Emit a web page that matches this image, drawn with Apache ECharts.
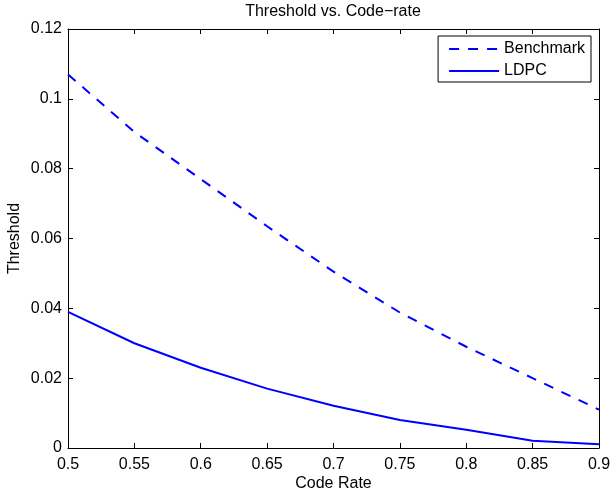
<!DOCTYPE html>
<html>
<head>
<meta charset="utf-8">
<script src="https://cdn.jsdelivr.net/npm/echarts@6/dist/echarts.min.js"></script>
<style>
html,body{margin:0;padding:0;background:#fff;}
#chart{width:612px;height:494px;}
</style>
</head>
<body>
<div id="chart"></div>
<script>
const codeRate = [0.5, 0.55, 0.6, 0.65, 0.7, 0.75, 0.8, 0.85, 0.9];
const benchmark = [0.107, 0.0905, 0.077, 0.0635, 0.0505, 0.0388, 0.029, 0.020, 0.011];
const ldpc = [0.039, 0.030, 0.023, 0.017, 0.0121, 0.008, 0.0052, 0.0021, 0.0011];
const titleText = 'Threshold vs. Code\u2212rate';
const xName = 'Code Rate';
const yName = 'Threshold';

const FONT = 'Liberation Sans, Arial, Helvetica, sans-serif';
const FS = 16;
const chart = echarts.init(document.getElementById('chart'));
const pairs = (xs, ys) => xs.map((x, i) => [x, ys[i]]);
const fmt = v => String(+v.toFixed(2));

const baseX = {
  type: 'value', min: 0.5, max: 0.9, interval: 0.05,
  axisLine: {show: true, onZero: false, lineStyle: {color: '#000', width: 1}},
  axisTick: {show: true, inside: true, length: 5, lineStyle: {color: '#000'}},
  splitLine: {show: false}
};
const baseY = {
  type: 'value', min: 0, max: 0.12, interval: 0.02,
  axisLine: {show: true, onZero: false, lineStyle: {color: '#000', width: 1}},
  axisTick: {show: true, inside: true, length: 5, lineStyle: {color: '#000'}},
  splitLine: {show: false}
};

chart.setOption({
  animation: false,
  backgroundColor: '#fff',
  title: {
    text: titleText, left: 328, top: -1, textAlign: 'center',
    textStyle: {fontFamily: FONT, fontSize: FS, fontWeight: 'normal', color: '#000'}
  },
  grid: {left: 68, right: 13, top: 29, bottom: 46, containLabel: false, outerBoundsMode: 'none'},
  legend: {
    orient: 'vertical', right: 21, top: 36,
    padding: [5, 6, 3, 10], itemWidth: 50, itemHeight: 14, itemGap: 6,
    borderColor: '#000', borderWidth: 1, borderRadius: 0, backgroundColor: '#fff',
    itemStyle: {opacity: 0},
    textStyle: {fontFamily: FONT, fontSize: FS, color: '#000'},
    data: ['Benchmark', 'LDPC']
  },
  xAxis: [
    Object.assign({}, baseX, {
      position: 'bottom', name: xName, nameLocation: 'middle', nameGap: 28, nameMoveOverlap: false,
      nameTextStyle: {fontFamily: FONT, fontSize: FS, color: '#000'},
      axisLabel: {show: true, fontFamily: FONT, fontSize: FS, color: '#000', margin: 9, formatter: fmt}
    }),
    Object.assign({}, baseX, {position: 'top', axisLabel: {show: false}})
  ],
  yAxis: [
    Object.assign({}, baseY, {
      position: 'left', name: yName, nameLocation: 'middle', nameGap: 45, nameMoveOverlap: false,
      nameTextStyle: {fontFamily: FONT, fontSize: FS, color: '#000'},
      axisLabel: {show: true, fontFamily: FONT, fontSize: FS, color: '#000', margin: 6, formatter: fmt}
    }),
    Object.assign({}, baseY, {position: 'right', axisLabel: {show: false}})
  ],
  series: [
    {
      name: 'Benchmark', type: 'line', symbol: 'none', xAxisIndex: 0, yAxisIndex: 0,
      data: pairs(codeRate, benchmark),
      lineStyle: {color: '#0000ff', width: 2, type: [10, 9]},
      itemStyle: {color: '#0000ff'}
    },
    {
      name: 'LDPC', type: 'line', symbol: 'none', xAxisIndex: 0, yAxisIndex: 0,
      data: pairs(codeRate, ldpc),
      lineStyle: {color: '#0000ff', width: 2, type: 'solid'},
      itemStyle: {color: '#0000ff'}
    }
  ]
});
</script>
</body>
</html>
